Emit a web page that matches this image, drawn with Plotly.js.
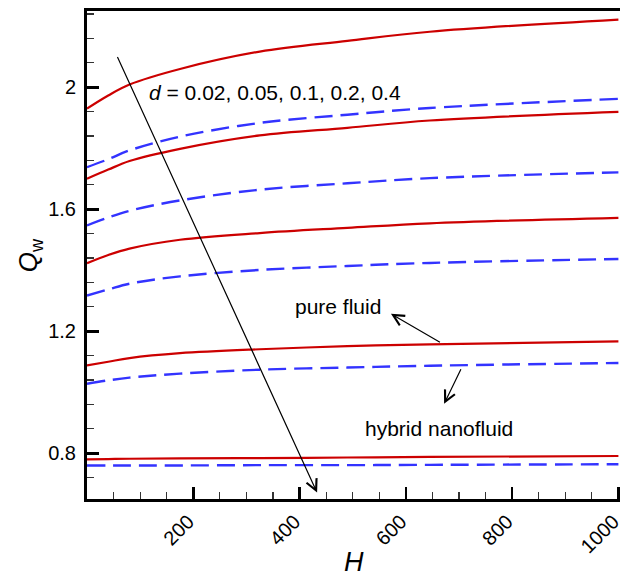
<!DOCTYPE html>
<html>
<head>
<meta charset="utf-8">
<script src="https://cdn.plot.ly/plotly-3.0.1.min.js"></script>
<style>html,body{margin:0;padding:0;background:#fff;}#chart{width:620px;height:577px;}</style>
</head>
<body>
<div id="chart"></div>
<script>
// H values (x axis)
const H = [0, 40, 80, 175, 325, 490, 645, 1000];

// Pure fluid (red solid), d = 0.02, 0.05, 0.1, 0.2, 0.4
const pure_d002 = [1.930, 1.973, 2.009, 2.060, 2.117, 2.152, 2.182, 2.222];
const pure_d005 = [1.700, 1.730, 1.758, 1.798, 1.842, 1.867, 1.891, 1.919];
const pure_d01  = [1.423, 1.450, 1.471, 1.500, 1.522, 1.539, 1.554, 1.572];
const pure_d02  = [1.088, 1.100, 1.112, 1.128, 1.141, 1.151, 1.157, 1.167];
const pure_d04  = [0.780, 0.781, 0.782, 0.783, 0.784, 0.786, 0.788, 0.791];

// Hybrid nanofluid (blue dashed)
const hyb_d002 = [1.738, 1.764, 1.793, 1.838, 1.883, 1.910, 1.932, 1.962];
const hyb_d005 = [1.547, 1.573, 1.595, 1.629, 1.664, 1.685, 1.702, 1.721];
const hyb_d01  = [1.317, 1.337, 1.356, 1.380, 1.401, 1.414, 1.424, 1.437];
const hyb_d02  = [1.028, 1.039, 1.048, 1.061, 1.074, 1.081, 1.087, 1.096];
const hyb_d04  = [0.760, 0.760, 0.760, 0.760, 0.761, 0.761, 0.762, 0.764];

// Tick labels
const xTickVals = [200, 400, 600, 800, 1000];
const xTickText = ['200', '400', '600', '800', '1000'];
const yTickVals = [0.8, 1.2, 1.6, 2.0];
const yTickText = ['0.8', '1.2', '1.6', '2'];

const pureSeries = [pure_d002, pure_d005, pure_d01, pure_d02, pure_d04];
const hybSeries = [hyb_d002, hyb_d005, hyb_d01, hyb_d02, hyb_d04];

const FONT = 'Liberation Sans, Arial, sans-serif';
const traces = [];
hybSeries.forEach(s => traces.push({
  x: H, y: s, mode: 'lines', type: 'scatter', hoverinfo: 'skip',
  line: {color: '#3333ff', width: 2.4, dash: '18px,8px', shape: 'spline', smoothing: 1}
}));
pureSeries.forEach(s => traces.push({
  x: H, y: s, mode: 'lines', type: 'scatter', hoverinfo: 'skip',
  line: {color: '#cc0000', width: 2.2, shape: 'spline', smoothing: 1}
}));

const arrowBase = {xref: 'x', yref: 'y', axref: 'x', ayref: 'y', text: '', showarrow: true,
  arrowhead: 5, arrowsize: 1.8, arrowwidth: 1.2, arrowcolor: '#000', standoff: 0, startstandoff: 0};

const layout = {
  width: 620, height: 577,
  margin: {l: 87, r: 0, t: 11, b: 78},
  paper_bgcolor: '#fff', plot_bgcolor: '#fff',
  showlegend: false,
  font: {family: FONT, color: '#000', size: 20},
  xaxis: {
    range: [0, 1003], tickvals: xTickVals, ticktext: xTickText, tickangle: -45,
    ticklabeloverflow: 'allow', ticklabelshift: -5,
    ticks: 'inside', ticklen: 12, tickwidth: 2.5, tickcolor: '#000',
    showline: true, linewidth: 3, linecolor: '#000', mirror: true,
    showgrid: false, zeroline: false,
    tickfont: {family: FONT, size: 20, color: '#000'},
    minor: {dtick: 50, tick0: 0, ticks: 'inside', ticklen: 7, tickwidth: 1.2, tickcolor: '#333', showgrid: false}
  },
  yaxis: {
    range: [0.65, 2.25], tickvals: yTickVals, ticktext: yTickText,
    ticks: 'inside', ticklen: 12, tickwidth: 2.5, tickcolor: '#000',
    showline: true, linewidth: 3, linecolor: '#000', mirror: false,
    showgrid: false, zeroline: false, ticklabelstandoff: 4,
    tickfont: {family: FONT, size: 20, color: '#000'},
    minor: {dtick: 0.08, tick0: 0.8, ticks: 'inside', ticklen: 7, tickwidth: 1.2, tickcolor: '#333', showgrid: false}
  },
  annotations: [
    Object.assign({}, arrowBase, {x: 433, y: 0.671, ax: 56, ay: 2.104}),
    Object.assign({}, arrowBase, {x: 572, y: 1.257, ax: 667, ay: 1.161}),
    Object.assign({}, arrowBase, {x: 672, y: 0.962, ax: 705, ay: 1.080}),
    {xref: 'x', yref: 'y', x: 353, y: 1.984, text: '<i>d</i> = 0.02, 0.05, 0.1, 0.2, 0.4',
     showarrow: false, font: {family: FONT, size: 21, color: '#000'}},
    {xref: 'x', yref: 'y', x: 473, y: 1.281, text: 'pure fluid',
     showarrow: false, font: {family: FONT, size: 21, color: '#000'}},
    {xref: 'x', yref: 'y', x: 662, y: 0.880, text: 'hybrid nanofluid',
     showarrow: false, font: {family: FONT, size: 21, color: '#000'}},
    {xref: 'paper', yref: 'paper', x: 0.5, y: -0.13, text: '<i>H</i>', yanchor: 'middle',
     showarrow: false, font: {family: FONT, size: 27, color: '#000'}},
    {xref: 'paper', yref: 'paper', x: -0.143, y: 0.5, text: '<i>Q</i><sub>w</sub>', textangle: -90,
     showarrow: false, font: {family: FONT, size: 26, color: '#000'}}
  ]
};

Plotly.newPlot('chart', traces, layout, {staticPlot: true, displayModeBar: false});
</script>
</body>
</html>
